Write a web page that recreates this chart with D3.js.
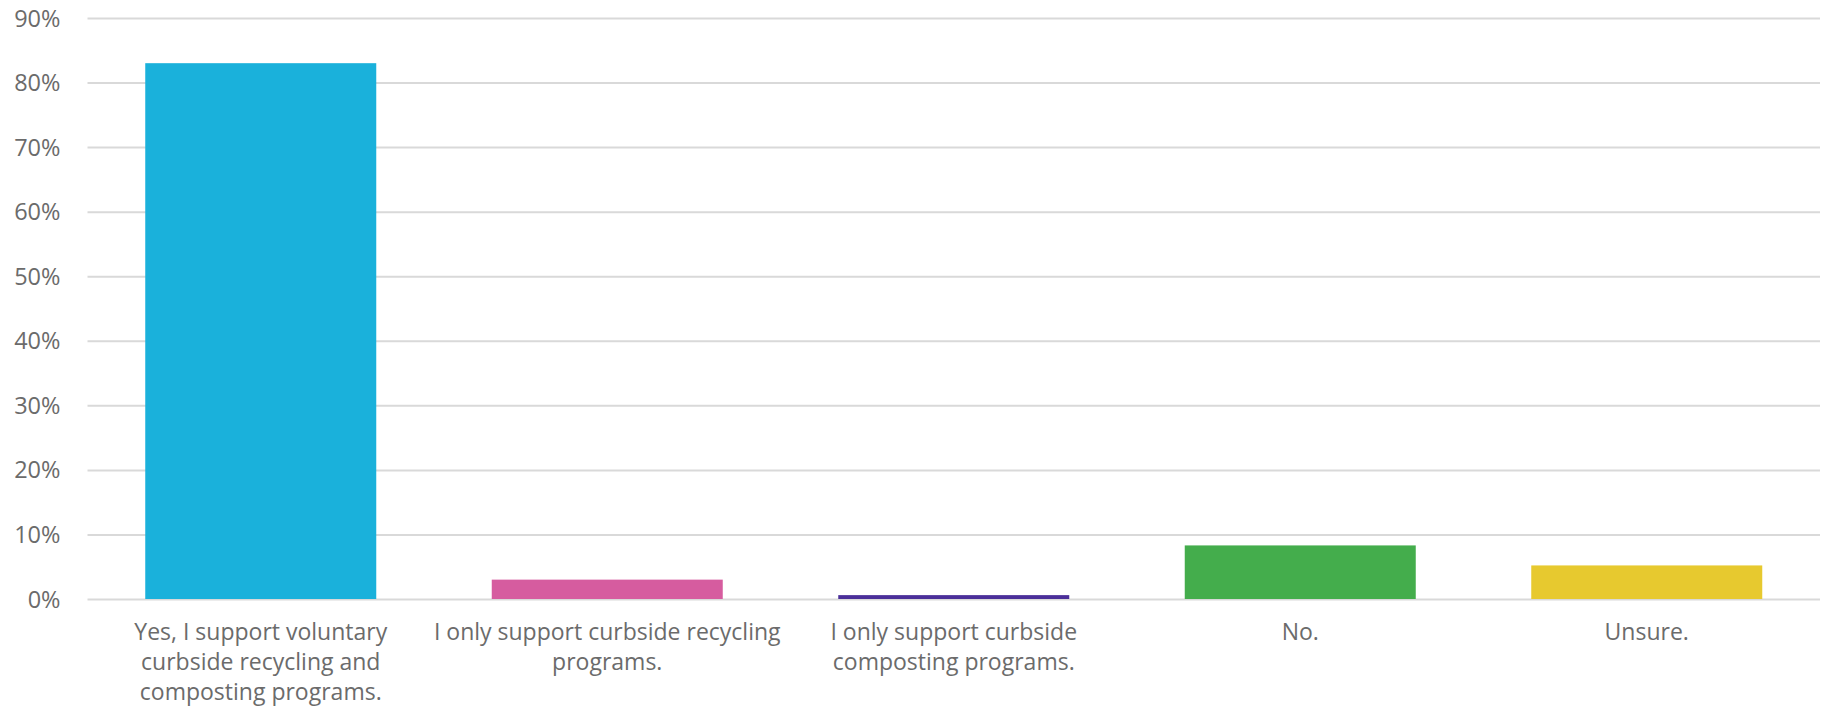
<!DOCTYPE html>
<html>
<head>
<meta charset="utf-8">
<script src="https://cdn.jsdelivr.net/npm/d3@7"></script>
<style>
  html, body { margin: 0; padding: 0; background: #fff; }
  svg { display: block; }
  text { font-family: "Open Sans", sans-serif; fill: #6b6b6b; }
</style>
</head>
<body>
<svg id="chart" width="1829" height="709"></svg>
<script>
const categories = [
  "Yes, I support voluntary curbside recycling and composting programs.",
  "I only support curbside recycling programs.",
  "I only support curbside composting programs.",
  "No.",
  "Unsure."
];
const categoryLines = [
  ["Yes, I support voluntary", "curbside recycling and", "composting programs."],
  ["I only support curbside recycling", "programs."],
  ["I only support curbside", "composting programs."],
  ["No."],
  ["Unsure."]
];
const values = [0.83, 0.03, 0.006, 0.083, 0.052];
const colors = ["#1ab1db", "#d65c9f", "#4b2f99", "#44ad4c", "#e7c92f"];
const yTicks = [0, 0.1, 0.2, 0.3, 0.4, 0.5, 0.6, 0.7, 0.8, 0.9];

const svg = d3.select("#chart");
const mLeft = 87.5, mRight = 1820, mTop = 18, mBottom = 599;

const x = d3.scaleBand().domain(categories).range([mLeft, mRight])
  .paddingInner(1/3).paddingOuter(1/6);
const y = d3.scaleLinear().domain([0, 0.9]).range([mBottom, mTop]);

// gridlines
const yAxis = d3.axisLeft(y).tickValues(yTicks)
  .tickFormat(d3.format(".0%")).tickSize(-(mRight - mLeft)).tickPadding(27);
const gy = svg.append("g").attr("transform", `translate(${mLeft},0)`).call(yAxis);
gy.select(".domain").remove();
gy.selectAll(".tick line").attr("stroke", "#d9d9d9").attr("stroke-width", 2);
gy.selectAll(".tick text").style("font-size", "23.5px").attr("fill", "#6b6b6b")
  .attr("dy", "0.34em");

// bars
svg.append("g").selectAll("rect").data(categories).join("rect")
  .attr("x", d => x(d))
  .attr("width", x.bandwidth())
  .attr("y", (d, i) => y(values[i]))
  .attr("height", (d, i) => y(0) - y(values[i]))
  .attr("fill", (d, i) => colors[i]);

// x labels
const gx = svg.append("g");
categories.forEach((c, i) => {
  const t = gx.append("text")
    .attr("x", x(c) + x.bandwidth() / 2)
    .attr("y", 640)
    .attr("text-anchor", "middle")
    .style("font-size", "23px");
  categoryLines[i].forEach((ln, j) => {
    t.append("tspan").attr("x", x(c) + x.bandwidth() / 2)
      .attr("dy", j === 0 ? 0 : 30).text(ln);
  });
});
</script>
</body>
</html>
